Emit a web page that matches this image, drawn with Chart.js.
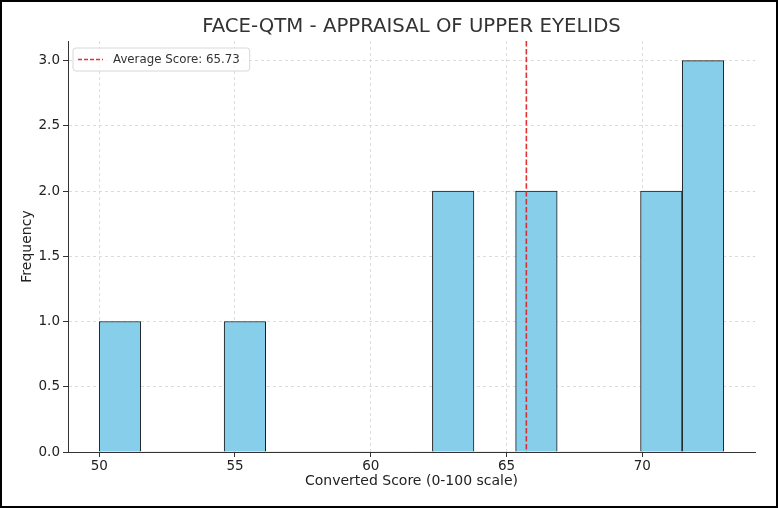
<!DOCTYPE html>
<html>
<head>
<meta charset="utf-8">
<script src="https://cdn.jsdelivr.net/npm/chart.js@4"></script>
<style>
  html, body { margin: 0; padding: 0; background: #fff; }
  #wrap { width: 778px; height: 508px; }
</style>
</head>
<body>
<div id="wrap"><canvas id="histChart" width="778" height="508"></canvas></div>
<script>
// histogram bins (15 bins between 50 and 73)
const binEdges = [50, 51.53, 53.07, 54.6, 56.13, 57.67, 59.2, 60.73, 62.27, 63.8, 65.33, 66.87, 68.4, 69.93, 71.47, 73];
const binCounts = [1, 0, 0, 1, 0, 0, 0, 0, 2, 0, 2, 0, 0, 2, 3];
const averageScore = 65.73;
const xTicks = [50, 55, 60, 65, 70];
const yTicks = [0, 0.5, 1, 1.5, 2, 2.5, 3];
const chartTitle = 'FACE-QTM - APPRAISAL OF UPPER EYELIDS';

const FONT = "'DejaVu Sans', sans-serif";

const points = binCounts.map((c, i) => ({ x: (binEdges[i] + binEdges[i + 1]) / 2, y: c }));

// title over the axes, dashed average line, legend box, outer frame
const extras = {
    id: 'extras',
    beforeDraw(chart) {
        const ctx = chart.ctx;
        ctx.save();
        ctx.fillStyle = '#fff';
        ctx.fillRect(0, 0, chart.width, chart.height);
        ctx.restore();
    },
    afterDatasetsDraw(chart) {
        const { ctx, chartArea, scales } = chart;
        const x = scales.x.getPixelForValue(averageScore);
        ctx.save();
        ctx.strokeStyle = 'rgba(222, 30, 30, 0.9)';
        ctx.lineWidth = 1.6;
        ctx.setLineDash([5.5, 2.4]);
        ctx.beginPath();
        ctx.moveTo(x, chartArea.top);
        ctx.lineTo(x, chartArea.bottom);
        ctx.stroke();
        ctx.restore();
    },
    afterDraw(chart) {
        const { ctx, chartArea } = chart;
        ctx.save();
        ctx.font = '19.7px ' + FONT;
        ctx.fillStyle = '#333';
        ctx.textAlign = 'center';
        ctx.textBaseline = 'middle';
        ctx.fillText(chartTitle, (chartArea.left + chartArea.right) / 2, 27);

        const label = 'Average Score: ' + averageScore.toFixed(2);
        ctx.font = '11.8px ' + FONT;
        ctx.textAlign = 'left';
        const tw = ctx.measureText(label).width;
        const bx = chartArea.left + 5, by = chartArea.top + 7;
        const bw = tw + 50, bh = 23;
        ctx.beginPath();
        ctx.roundRect(bx, by, bw, bh, 3);
        ctx.fillStyle = 'rgba(255,255,255,0.8)';
        ctx.fill();
        ctx.strokeStyle = '#d8d8d8';
        ctx.lineWidth = 1;
        ctx.stroke();
        ctx.strokeStyle = 'rgba(222, 30, 30, 0.9)';
        ctx.lineWidth = 1.4;
        ctx.setLineDash([4, 2]);
        ctx.beginPath();
        ctx.moveTo(bx + 5, by + bh / 2);
        ctx.lineTo(bx + 30, by + bh / 2);
        ctx.stroke();
        ctx.setLineDash([]);
        ctx.fillStyle = '#333';
        ctx.fillText(label, bx + 40, by + bh / 2 + 0.5);
        // figure frame
        ctx.strokeStyle = '#000';
        ctx.lineWidth = 2;
        ctx.strokeRect(1, 1, chart.width - 2, chart.height - 2);
        ctx.restore();
    }
};

new Chart(document.getElementById('histChart'), {
    type: 'bar',
    data: {
        datasets: [{
            label: 'Frequency',
            data: points,
            backgroundColor: '#87ceeb',
            borderColor: '#1a1a1a',
            borderWidth: c => (c.raw && c.raw.y > 0 ? 1 : 0),
            barPercentage: 1,
            categoryPercentage: 1
        }]
    },
    options: {
        responsive: false,
        animation: false,
        layout: { padding: { left: 0, right: 23, top: 41, bottom: 0 } },
        scales: {
            x: {
                type: 'linear',
                min: 48.85,
                max: 74.15,
                offset: false,
                afterFit: s => { s.height = 56; },
                afterBuildTicks: s => { s.ticks = xTicks.map(v => ({ value: v })); },
                grid: { offset: false, color: '#d3d3d3', lineWidth: 0.8, tickLength: 5, tickColor: '#333', tickWidth: 1 },
                border: { display: true, color: '#333', width: 1, dash: [3, 3] },
                ticks: { color: '#222', font: { family: FONT, size: 13.5 }, padding: 1 },
                title: { display: true, text: 'Converted Score (0-100 scale)', color: '#222', font: { family: FONT, size: 14 }, padding: { top: 0, bottom: 18 } }
            },
            y: {
                min: 0,
                max: 3.15,
                afterFit: s => { s.width = 68; },
                afterBuildTicks: s => { s.ticks = yTicks.map(v => ({ value: v })); },
                grid: { color: '#d3d3d3', lineWidth: 0.8, tickLength: 5, tickColor: '#333', tickWidth: 1 },
                border: { display: true, color: '#333', width: 1, dash: [3, 3] },
                ticks: { color: '#222', font: { family: FONT, size: 13.5 }, padding: 3, callback: v => v.toFixed(1) },
                title: { display: true, text: 'Frequency', color: '#222', font: { family: FONT, size: 14 }, padding: { top: 19, bottom: 0 } }
            }
        },
        plugins: {
            legend: { display: false },
            tooltip: { enabled: false },
            title: { display: false }
        }
    },
    plugins: [extras]
});
</script>
</body>
</html>
